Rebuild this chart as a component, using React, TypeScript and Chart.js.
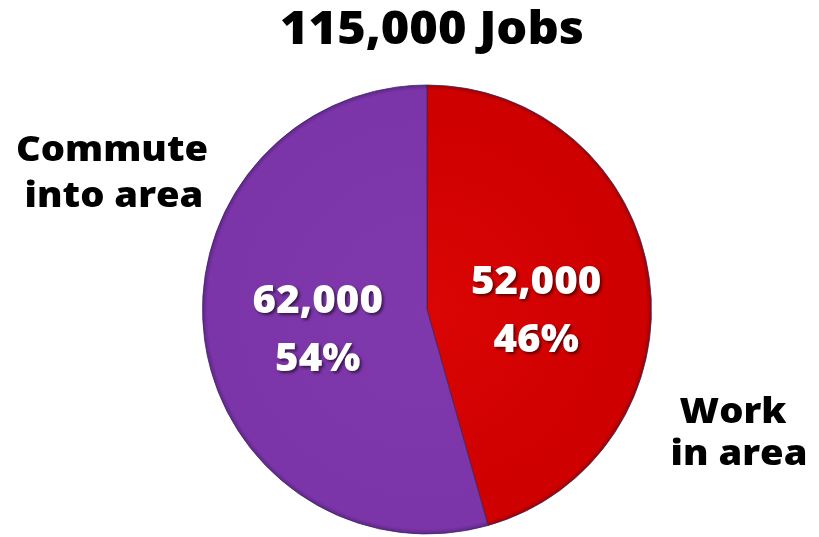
import React, { useEffect, useRef } from "react";
import { Chart, registerables } from "chart.js";

Chart.register(...registerables);

const titleText = "115,000 Jobs";
const categories = ["Work in area", "Commute into area"];
const jobs = [52000, 62000];
const percents = [46, 54];
const sideLabels = [
  ["Work", "in area"],
  ["Commute", "into area"],
];
const baseColors = ["#cf0000", "#7b35a8"];
const innerColors = ["#da0505", "#8039ad"];
const rimColors = ["#a00000", "#5d2585"];

const FONT = '"Open Sans", sans-serif';
const SX = 1.06;
const labelDx = [-2, 2];
const labelDy = [0, -12];

function drawText(ctx: CanvasRenderingContext2D, text: string, x: number, y: number, size: number, weight = 700) {
  ctx.save();
  ctx.translate(x, y);
  ctx.scale(SX, 1);
  ctx.font = `${weight} ${size}px ${FONT}`;
  ctx.textAlign = "center";
  ctx.textBaseline = "alphabetic";
  ctx.fillText(text, 0, 0);
  ctx.restore();
}

const labelPlugin = {
  id: "labelPlugin",
  afterDraw(chart: any) {
    const ctx: CanvasRenderingContext2D = chart.ctx;
    ctx.fillStyle = "#000000";
    drawText(ctx, titleText, 432, 44, 46, 800);
    drawText(ctx, sideLabels[0][0], 733, 423, 36, 800);
    drawText(ctx, sideLabels[0][1], 739, 465, 36, 800);
    drawText(ctx, sideLabels[1][0], 112, 161, 36, 800);
    drawText(ctx, sideLabels[1][1], 114, 207, 36, 800);
    const meta = chart.getDatasetMeta(0);
    meta.data.forEach((arc: any, i: number) => {
      const p = arc.tooltipPosition();
      const x = p.x + labelDx[i];
      const y = p.y + labelDy[i];
      ctx.save();
      ctx.shadowColor = "rgba(0,0,0,0.55)";
      ctx.shadowOffsetX = 2;
      ctx.shadowOffsetY = 2;
      ctx.shadowBlur = 3;
      ctx.fillStyle = "#ffffff";
      const v = jobs[i].toLocaleString("en-US");
      drawText(ctx, v, x, y, 38, 800);
      drawText(ctx, percents[i] + "%", x, y + 58, 38, 800);
      ctx.restore();
    });
  },
};

function bg(c: any) {
  const i = c.dataIndex ?? 0;
  const chart = c.chart;
  const area = chart.chartArea;
  if (!area) return baseColors[i];
  const cx = (area.left + area.right) / 2;
  const cy = (area.top + area.bottom) / 2;
  const r = Math.min(area.right - area.left, area.bottom - area.top) / 2;
  const g = chart.ctx.createRadialGradient(cx, cy, 0, cx, cy, r);
  g.addColorStop(0, innerColors[i]);
  g.addColorStop(0.9, baseColors[i]);
  g.addColorStop(0.975, baseColors[i]);
  g.addColorStop(1, rimColors[i]);
  return g;
}

export default function App() {
  const ref = useRef<HTMLCanvasElement | null>(null);
  useEffect(() => {
    document.body.style.margin = "0";
    const canvas = ref.current;
    if (!canvas) return;
    const chart = new Chart(canvas, {
      type: "pie",
      data: {
        labels: categories,
        datasets: [
          {
            data: jobs,
            backgroundColor: bg as any,
            borderColor: "rgba(55,35,95,0.75)",
            borderWidth: 1,
            hoverOffset: 0,
          },
        ],
      },
      options: {
        responsive: false,
        animation: false,
        layout: { padding: { left: 202, right: 167, top: 84, bottom: 2 } },
        plugins: {
          legend: { display: false },
          tooltip: { enabled: false },
          title: { display: false },
        },
      },
      plugins: [labelPlugin],
    });
    return () => chart.destroy();
  }, []);
  return (
    <div style={{ position: "fixed", left: 0, top: 0, width: 819, height: 537, background: "#ffffff" }}>
      <canvas ref={ref} width={819} height={537} style={{ width: 819, height: 537 }} />
    </div>
  );
}
